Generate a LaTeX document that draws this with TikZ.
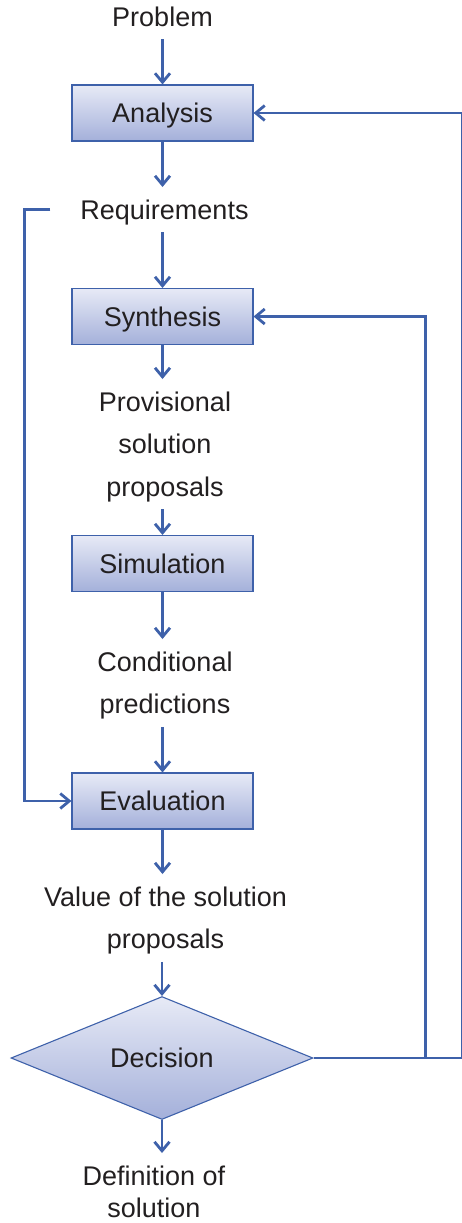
\documentclass[tikz,border=0pt]{standalone}
\usepackage{fontspec}
\setmainfont{Liberation Sans}
\usetikzlibrary{arrows.meta,shapes.geometric}
\definecolor{flowblue}{RGB}{62,97,170}
\definecolor{boxtop}{RGB}{231,234,246}
\definecolor{boxbot}{RGB}{164,176,218}
\definecolor{ink}{RGB}{34,31,32}
% line strut: 25pt above the baseline, 6pt below
\newcommand{\ls}{\rule[-6pt]{0pt}{31pt}}
\begin{document}
\begin{tikzpicture}[x=1pt,y=-1pt,
  every node/.style={font=\fontsize{27}{42.5}\selectfont, text=ink},
  stage/.style={draw=flowblue, line width=1.1pt, top color=boxtop, bottom color=boxbot,
    minimum width=181pt, minimum height=56pt, inner sep=0pt, text height=19.4pt, text depth=0pt},
  choice/.style={shape=diamond, draw=flowblue, line width=1.1pt, top color=boxtop, bottom color=boxbot,
    minimum width=302pt, minimum height=122pt, inner sep=0pt, text height=19.4pt, text depth=0pt},
  lbl/.style={anchor=north, align=center, inner xsep=0pt, inner ysep=7pt},
  flow/.style={draw=flowblue, line width=2.8pt},
  arr/.style={flow, -{Straight Barb[length=9pt,width=15pt]}}]
\useasboundingbox (0,0) rectangle (462,1223);

% process stages
\node[stage] (ana) at (162.5,113) {Analysis};
\node[stage] (syn) at (162.5,316.5) {Synthesis};
\node[stage] (sim) at (162.5,563.5) {Simulation};
\node[stage] (eva) at (162.5,801) {Evaluation};
\node[choice] (dec) at (162,1058) {Decision};

% intermediate results
\node[lbl] (prob) at (162.5,-6) {\ls Problem};
\node[lbl] (req) at (164.5,187) {\ls Requirements};
\node[lbl] (prov) at (165,379) {\ls Provisional\\\ls solution\\\ls proposals};
\node[lbl] (cond) at (165,639) {\ls Conditional\\\ls predictions};
\node[lbl] (val) at (165.5,874) {\ls Value of the solution\\\ls proposals};
\node[lbl, font=\fontsize{27}{32}\selectfont] (def) at (154,1153) {\ls Definition of\\\ls solution};

% main flow
\draw[arr] (ana.north |- prob.south) -- (ana.north);
\draw[arr] (ana.south) -- (ana.south |- req.north);
\draw[arr] (syn.north |- req.south) -- (syn.north);
\draw[arr] (syn.south) -- (syn.south |- prov.north);
\draw[arr] (sim.north |- prov.south) -- (sim.north);
\draw[arr] (sim.south) -- (sim.south |- cond.north);
\draw[arr] (eva.north |- cond.south) -- (eva.north);
\draw[arr] (eva.south) -- (eva.south |- val.north);
\draw[arr] (dec.north |- val.south) -- (dec.north);
\draw[arr] (dec.south) -- (dec.south |- def.north);

% requirements feed the evaluation
\draw[arr] ([xshift=-30pt]req.west) -- ++(-26,0) |- (eva.west);

% feedback from the decision
\draw[arr] (dec.east) -- ++(112,0) coordinate (fbsyn) |- (syn.east);
\draw[arr] (fbsyn) -- ++(36.5,0) |- (ana.east);
\end{tikzpicture}
\end{document}
